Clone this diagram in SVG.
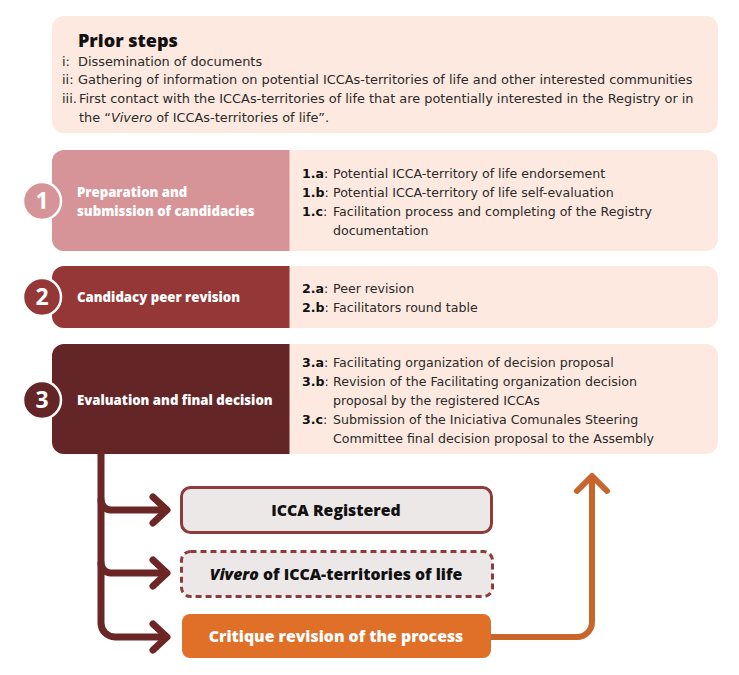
<svg xmlns="http://www.w3.org/2000/svg" width="739" height="675" viewBox="0 0 739 675">
<style>
.t{font-family:"DejaVu Sans","Open Sans",sans-serif;font-size:12.6px;fill:#2a2a2a}
.p{font-family:"DejaVu Sans","Open Sans",sans-serif;font-size:12.9px;fill:#2a2a2a}
.b{font-weight:bold;fill:#111}
.lbl{font-family:"Open Sans","Liberation Sans",sans-serif;font-size:13.2px;font-weight:800;fill:#fff}
.num{font-family:"Open Sans","Liberation Sans",sans-serif;font-size:23px;font-weight:bold;fill:#fff;text-anchor:middle}
.out{font-family:"Open Sans","Liberation Sans",sans-serif;font-size:15.8px;font-weight:800;text-anchor:middle}
.peach{fill:#fde9df}
.circ{stroke:#fff;stroke-width:2.5}
.conn{fill:none;stroke:#6b2626;stroke-width:7;stroke-linecap:round;stroke-linejoin:round}
.conn2{fill:none;stroke:#c8652a;stroke-width:6;stroke-linecap:round;stroke-linejoin:round}
</style>
<rect width="739" height="675" fill="#fff"/>
<g id="prior">
<rect class="peach" x="52" y="16" width="666" height="117" rx="12"/>
<text x="78" y="47" font-family="Open Sans,Liberation Sans,sans-serif" font-size="18" font-weight="800" fill="#111">Prior steps</text>
<text class="p" x="62" y="66">i:</text><text class="p" x="78" y="66">Dissemination of documents</text>
<text class="p" x="62" y="84">ii:</text><text class="p" x="78" y="84">Gathering of information on potential ICCAs-territories of life and other interested communities</text>
<text class="p" x="62" y="103">iii.</text><text class="p" x="79" y="103">First contact with the ICCAs-territories of life that are potentially interested in the Registry or in</text>
<text class="p" x="79" y="122">the “<tspan font-style="italic">Vivero</tspan> of ICCAs-territories of life”.</text>
</g>
<g id="step1">
<rect class="peach" x="52" y="150" width="666" height="101" rx="12"/>
<path d="M289.5 150 H64 A12 12 0 0 0 52 162 V239 A12 12 0 0 0 64 251 H289.5 Z" fill="#d79498"/>
<circle class="circ" cx="42" cy="201" r="19" fill="#d79498"/>
<text class="num" x="42" y="209">1</text>
<text class="lbl" x="77" y="197">Preparation and</text>
<text class="lbl" x="77" y="216">submission of candidacies</text>
<text class="t" x="302" y="178"><tspan class="b">1.a</tspan>:</text><text class="t" x="333" y="178">Potential ICCA-territory of life endorsement</text>
<text class="t" x="302" y="197"><tspan class="b">1.b</tspan>:</text><text class="t" x="333" y="197">Potential ICCA-territory of life self-evaluation</text>
<text class="t" x="302" y="216"><tspan class="b">1.c</tspan>:</text><text class="t" x="333" y="216">Facilitation process and completing of the Registry</text>
<text class="t" x="333" y="235">documentation</text>
</g>
<g id="step2">
<rect class="peach" x="52" y="266" width="666" height="62" rx="12"/>
<path d="M289.5 266 H64 A12 12 0 0 0 52 278 V316 A12 12 0 0 0 64 328 H289.5 Z" fill="#953737"/>
<circle class="circ" cx="42" cy="297" r="19" fill="#953737"/>
<text class="num" x="42" y="305">2</text>
<text class="lbl" x="77" y="302">Candidacy peer revision</text>
<text class="t" x="302" y="293"><tspan class="b">2.a</tspan>:</text><text class="t" x="333" y="293">Peer revision</text>
<text class="t" x="302" y="312"><tspan class="b">2.b</tspan>:</text><text class="t" x="333" y="312">Facilitators round table</text>
</g>
<g id="step3">
<rect class="peach" x="52" y="344" width="666" height="110" rx="12"/>
<path d="M289.5 344 H64 A12 12 0 0 0 52 356 V442 A12 12 0 0 0 64 454 H289.5 Z" fill="#632526"/>
<circle class="circ" cx="42" cy="400" r="19" fill="#632526"/>
<text class="num" x="42" y="408">3</text>
<text class="lbl" x="77" y="405">Evaluation and final decision</text>
<text class="t" x="302" y="367"><tspan class="b">3.a</tspan>:</text><text class="t" x="333" y="367">Facilitating organization of decision proposal</text>
<text class="t" x="302" y="386"><tspan class="b">3.b</tspan>:</text><text class="t" x="333" y="386">Revision of the Facilitating organization decision</text>
<text class="t" x="333" y="405">proposal by the registered ICCAs</text>
<text class="t" x="302" y="424"><tspan class="b">3.c</tspan>:</text><text class="t" x="333" y="424">Submission of the Iniciativa Comunales Steering</text>
<text class="t" x="333" y="443">Committee final decision proposal to the Assembly</text>
</g>
<g id="connectors">
<path class="conn" d="M101 454 V500 A10 10 0 0 0 111 510 H166"/>
<path class="conn" d="M101 500 V563 A10 10 0 0 0 111 573 H166"/>
<path class="conn" d="M101 563 V623 A14 14 0 0 0 115 637 H166"/>
<path class="conn" d="M153 497 L167 510 L153 523"/>
<path class="conn" d="M153 560 L167 573 L153 586"/>
<path class="conn" d="M153 624 L167 637 L153 650"/>
<path class="conn2" d="M490 637 H577 A15 15 0 0 0 592 622 V478"/>
<path class="conn2" d="M577 491 L592 476 L607 491"/>
</g>
<g id="registered">
<rect x="181.5" y="487.5" width="310" height="45" rx="9" fill="#ede8e8" stroke="#8e3b3b" stroke-width="3"/>
<text class="out" x="336" y="516" fill="#111">ICCA Registered</text>
</g>
<g id="vivero">
<rect x="181.5" y="551.5" width="311" height="45" rx="9" fill="#ede8e8" stroke="#8e3b3b" stroke-width="3" stroke-dasharray="6 4"/>
<text class="out" x="336" y="580" fill="#111"><tspan font-style="italic">Vivero</tspan> of ICCA-territories of life</text>
</g>
<g id="critique">
<rect x="182" y="614" width="309" height="44" rx="8" fill="#e07028"/>
<text class="out" x="336" y="642" fill="#fff">Critique revision of the process</text>
</g>
</svg>
